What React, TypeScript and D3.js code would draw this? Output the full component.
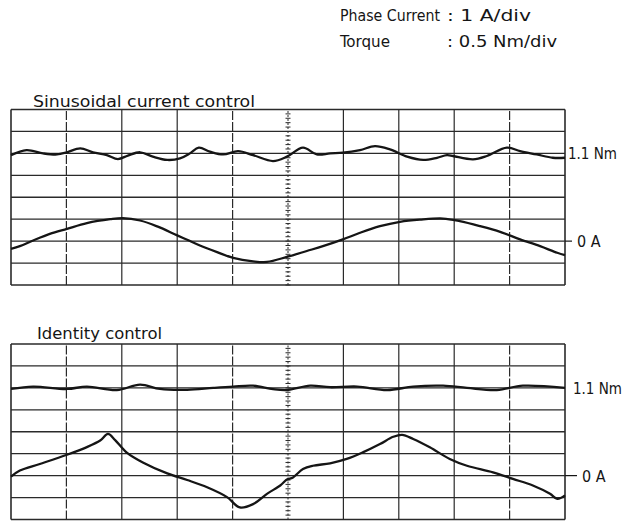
import React from 'react';
import * as d3 from 'd3';

// time axis is in screen divisions (10 across), values in physical units
const sinTorqueTime = [0, 0.28, 0.58, 0.83, 1.01, 1.25, 1.48, 1.73, 1.93, 2.11, 2.33, 2.56, 2.82, 3.05, 3.23, 3.39, 3.59, 3.83, 4.1, 4.37, 4.73, 4.98, 5.27, 5.52, 5.76, 5.99, 6.3, 6.57, 6.84, 7.15, 7.44, 7.69, 7.87, 7.98, 8.34, 8.59, 8.95, 9.19, 9.49, 9.78, 10];
const sinTorqueNm = [1.06, 1.175, 1.1, 1.075, 1.125, 1.215, 1.125, 1.06, 0.97, 1.05, 1.125, 1.025, 0.95, 0.985, 1.1, 1.23, 1.14, 1.075, 1.15, 1.06, 0.925, 1.025, 1.23, 1.075, 1.1, 1.115, 1.175, 1.265, 1.19, 1.025, 0.95, 1.0, 1.06, 1.04, 0.965, 1.04, 1.23, 1.15, 1.075, 1.0, 1.0];

const sinCurrentTime = [0, 0.16, 0.4, 0.7, 1.01, 1.37, 1.79, 2.02, 2.33, 2.64, 3.0, 3.18, 3.41, 3.72, 4.01, 4.37, 4.62, 4.98, 5.34, 5.63, 5.99, 6.3, 6.66, 7.02, 7.38, 7.8, 8.1, 8.47, 8.83, 9.19, 9.55, 9.86, 10];
const sinCurrentA = [-0.35, -0.23, 0.03, 0.33, 0.56, 0.82, 1.0, 1.05, 0.94, 0.67, 0.26, 0.06, -0.2, -0.5, -0.76, -0.92, -0.95, -0.72, -0.45, -0.23, 0.08, 0.38, 0.68, 0.88, 0.98, 1.03, 0.91, 0.68, 0.42, 0.08, -0.23, -0.53, -0.64];

const idTorqueTime = [0, 0.4, 1.01, 1.37, 1.91, 2.33, 2.69, 3.18, 3.65, 4.01, 4.37, 4.73, 4.98, 5.4, 5.76, 6.25, 6.79, 7.26, 7.8, 8.23, 8.77, 9.24, 10];
const idTorqueNm = [1.075, 1.13, 1.075, 1.13, 1.05, 1.175, 1.075, 1.055, 1.1, 1.13, 1.15, 1.07, 1.05, 1.15, 1.115, 1.13, 1.05, 1.13, 1.15, 1.1, 1.05, 1.15, 1.1];

const idCurrentTime = [0, 0.16, 0.52, 1.01, 1.37, 1.61, 1.75, 1.88, 2.09, 2.38, 2.82, 3.18, 3.54, 3.9, 4.13, 4.37, 4.62, 4.86, 4.98, 5.09, 5.27, 5.45, 5.76, 6.06, 6.35, 6.66, 6.9, 7.06, 7.26, 7.56, 7.92, 8.23, 8.7, 9.06, 9.42, 9.73, 9.86, 10];
const idCurrentA = [-0.05, 0.23, 0.53, 0.95, 1.3, 1.6, 1.9, 1.62, 1.05, 0.6, 0.1, -0.2, -0.53, -0.98, -1.45, -1.3, -0.83, -0.45, -0.18, -0.08, 0.3, 0.45, 0.56, 0.76, 1.06, 1.44, 1.77, 1.86, 1.67, 1.29, 0.76, 0.45, 0.15, -0.15, -0.45, -0.83, -1.06, -0.9];

const xDivs = [0, 1, 2, 3, 4, 5, 6, 7, 8, 9, 10];
const yDivs = [0, 1, 2, 3, 4, 5, 6, 7, 8];
const dashedDivs = [1, 4, 9];
const torqueRef = 1.1;
const currentRef = 0;

const FONT = "'DejaVu Sans Condensed', 'DejaVu Sans', sans-serif";
const INK = '#151515';

type PanelProps = {
  top: number;
  title: string;
  titleX: number;
  titleY: number;
  titleW: number;
  torqueT: number[];
  torqueV: number[];
  currentT: number[];
  currentV: number[];
  nmLabelX: number;
  aLabelX: number;
};

const Panel = ({ top, title, titleX, titleY, titleW, torqueT, torqueV, currentT, currentV, nmLabelX, aLabelX }: PanelProps) => {
  const height = 175.5;
  const x = d3.scaleLinear().domain([0, 10]).range([11, 565]);
  const yDiv = d3.scaleLinear().domain([0, 8]).range([top + height, top]);
  // 0.5 Nm/div, 1.1 Nm sits two divisions below the top
  const yTorque = d3.scaleLinear().domain([-1.9, 2.1]).range([top + height, top]);
  // 1 A/div, 0 A sits two divisions above the bottom
  const yCurrent = d3.scaleLinear().domain([-2, 6]).range([top + height, top]);

  const torqueLine = d3.line<number>()
    .x((_, i) => x(torqueT[i]))
    .y(d => yTorque(d))
    .curve(d3.curveCatmullRom.alpha(0.5));
  const currentLine = d3.line<number>()
    .x((_, i) => x(currentT[i]))
    .y(d => yCurrent(d))
    .curve(d3.curveCatmullRom.alpha(0.5));

  const minorTicks = d3.range(0, 40).map(i => i / 5);

  return (
    <g>
      {yDivs.map(d => (
        <line key={'h' + d} x1={x(0)} x2={x(10)} y1={yDiv(d)} y2={yDiv(d)}
          stroke="#2a2a2a" strokeWidth={d === 0 || d === 8 ? 1.6 : 1.3} />
      ))}
      {xDivs.map(d => {
        const edge = d === 0 || d === 10;
        const center = d === 5;
        return (
          <line key={'v' + d} x1={x(d)} x2={x(d)} y1={yDiv(0)} y2={yDiv(8)}
            stroke="#2a2a2a"
            strokeWidth={edge ? 1.6 : center ? 1 : 1.2}
            strokeDasharray={center ? '2,2' : dashedDivs.includes(d) ? '9,2' : undefined} />
        );
      })}
      {minorTicks.map(t => (
        <line key={'m' + t} x1={x(5) - 2.5} x2={x(5) + 2.5} y1={yDiv(t)} y2={yDiv(t)}
          stroke="#2a2a2a" strokeWidth={1} />
      ))}
      <text x={titleX} y={titleY} fontFamily={FONT} fontSize={16} fill={INK}
        textLength={titleW} lengthAdjust="spacingAndGlyphs">{title}</text>
      <path d={torqueLine(torqueV) || ''} fill="none" stroke={INK} strokeWidth={2.3} strokeLinejoin="round" />
      <path d={currentLine(currentV) || ''} fill="none" stroke={INK} strokeWidth={2.3} strokeLinejoin="round" />
      <line x1={x(10)} x2={aLabelX - 5} y1={yCurrent(currentRef)} y2={yCurrent(currentRef)} stroke={INK} strokeWidth={1.2} />
      <text x={nmLabelX} y={yTorque(torqueRef) + 6} fontFamily={FONT} fontSize={15} fill={INK}>1.1 Nm</text>
      <text x={aLabelX} y={yCurrent(currentRef) + 6} fontFamily={FONT} fontSize={16} fill={INK}>0 A</text>
    </g>
  );
};

const App = () => {
  const width = 625;
  const height = 523;
  return (
    <svg width={width} height={height} style={{ position: 'absolute', left: 0, top: 0, background: '#fff' }}>
      <rect width={width} height={height} fill="#fff" />
      <g fontFamily={FONT} fontSize={15} fill={INK}>
        <text x={340} y={21} textLength={100} lengthAdjust="spacingAndGlyphs">Phase Current</text>
        <text x={447} y={21} fontSize={16} textLength={84} lengthAdjust="spacingAndGlyphs">: 1 A/div</text>
        <text x={340} y={47} textLength={50} lengthAdjust="spacingAndGlyphs">Torque</text>
        <text x={447} y={47} fontSize={16} textLength={110} lengthAdjust="spacingAndGlyphs">: 0.5 Nm/div</text>
      </g>
      <Panel top={109.5} title="Sinusoidal current control" titleX={33} titleY={107} titleW={222}
        torqueT={sinTorqueTime} torqueV={sinTorqueNm}
        currentT={sinCurrentTime} currentV={sinCurrentA}
        nmLabelX={568} aLabelX={577} />
      <Panel top={344} title="Identity control" titleX={37} titleY={339} titleW={125}
        torqueT={idTorqueTime} torqueV={idTorqueNm}
        currentT={idCurrentTime} currentV={idCurrentA}
        nmLabelX={573} aLabelX={582} />
    </svg>
  );
};

export default App;
